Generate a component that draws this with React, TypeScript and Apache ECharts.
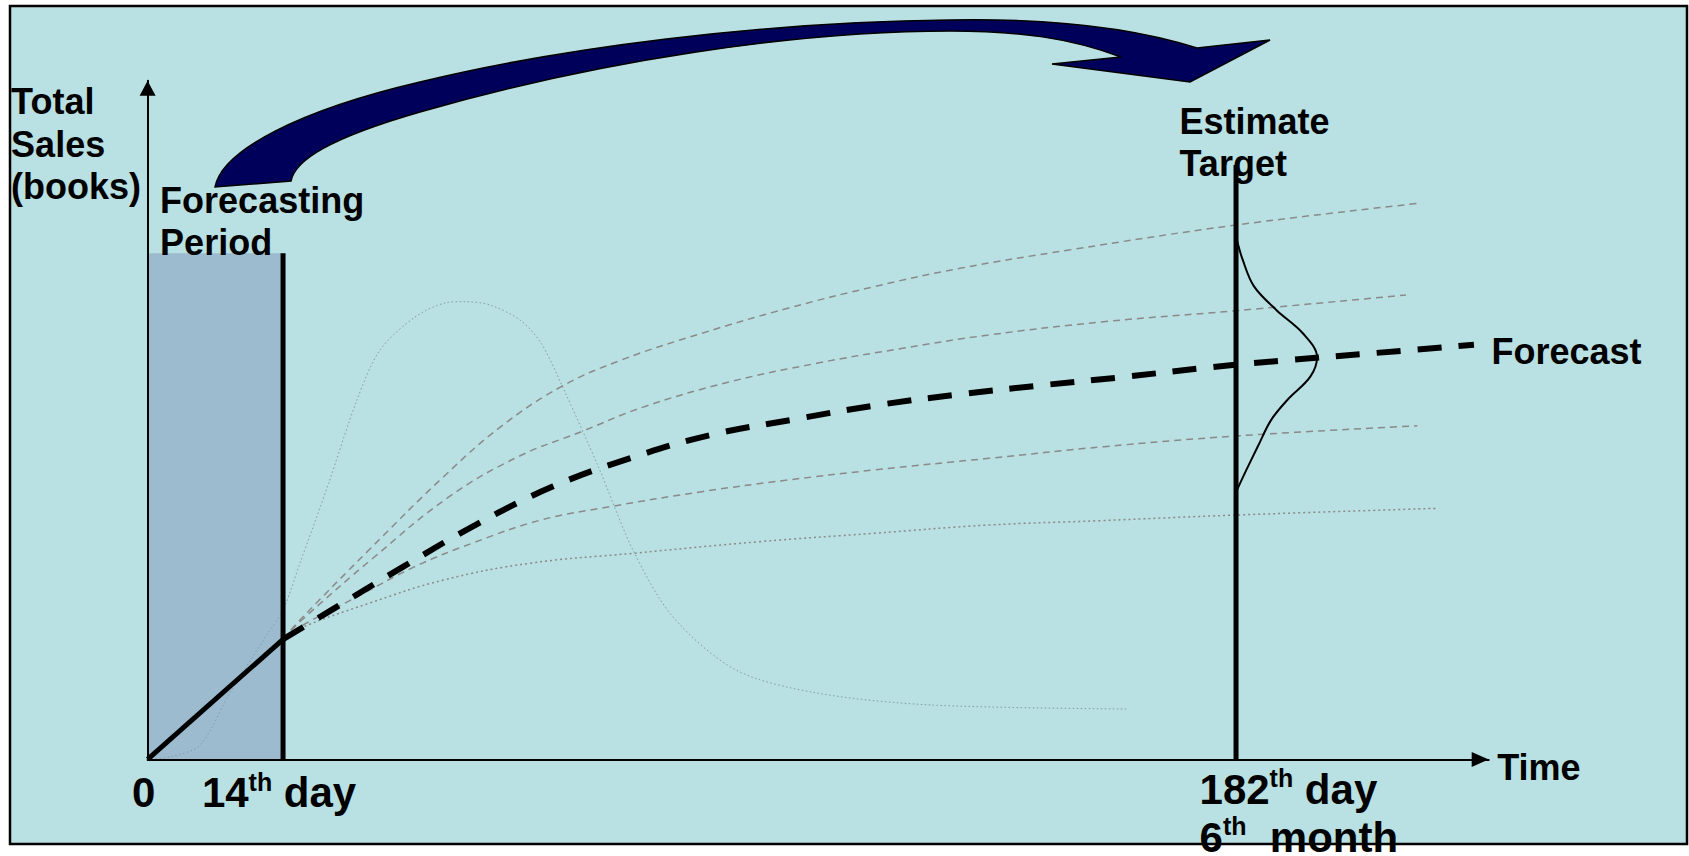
import React, { useEffect, useRef } from 'react';
import * as echarts from 'echarts';

// Schematic axes: time runs 0..100 (0 = launch, 10.1 = 14th day, 81.16 = 182th day),
// total sales runs 0..100 (relative units).
const X_MIN = 0;
const X_MAX = 100;
const Y_MIN = 0;
const Y_MAX = 100;

const forecastEndX = 10.1; // 14th day
const targetX = 81.16; // 182th day
const periodTopY = 74.6;
const targetTopY = 87.6;

const xTickValues = [0, 10.1];
const xTickLabels = ['0', '14th day'];
const targetTickLabel = '182th day\n6th  month';
const yAxisTitle = 'Total\nSales\n(books)';
const xAxisTitle = 'Time';
const periodTitle = 'Forecasting\nPeriod';
const targetTitle = 'Estimate\nTarget';
const forecastTitle = 'Forecast';

const actualSales = [[0, 0], [10.1, 17.7]];

const forecast = [
  [10.1, 17.7], [13.7, 22.0], [19.07, 28.4], [24.4, 34.5], [30.2, 40.2], [36.0, 44.4],
  [41.97, 47.8], [48.2, 50.1], [54.4, 52.2], [60.6, 53.8], [67.0, 55.2], [73.0, 56.4],
  [79.3, 57.8], [85.4, 58.9], [91.6, 59.9], [98.9, 61.1],
];

const scenarioHigh = [
  [10.1, 17.7], [11.36, 20.54], [16.5, 30.85], [22.07, 41.66], [26.34, 49.03], [30.84, 54.92],
  [35.33, 58.86], [41.32, 62.79], [47.74, 66.48], [54.16, 69.66], [60.58, 72.37], [68.72, 75.07],
  [81.16, 78.75], [94.8, 81.95],
];

const scenarioMidHigh = [
  [10.1, 17.7], [11.36, 20.29], [16.93, 29.87], [22.49, 38.71], [27.63, 44.61], [32.34, 48.29],
  [37.04, 51.98], [43.46, 55.66], [49.88, 58.37], [56.3, 60.58], [62.72, 62.54], [71.28, 64.5],
  [81.16, 66.12], [93.83, 68.44],
];

const scenarioMidLow = [
  [10.1, 17.7], [11.36, 19.55], [15.64, 23.98], [19.92, 28.4], [24.2, 31.85], [29.33, 35.28],
  [34.48, 37.24], [41.32, 39.45], [47.74, 41.17], [54.16, 42.65], [62.72, 44.37], [71.28, 46.08],
  [81.16, 47.66], [94.68, 49.17],
];

const scenarioLow = [
  [10.1, 17.7], [11.36, 19.32], [16.5, 23.0], [22.07, 26.44], [28.48, 28.9], [36.19, 30.37],
  [45.6, 32.08], [54.16, 33.32], [62.72, 34.54], [71.02, 35.18], [81.16, 36.01], [96.22, 37.0],
];

const dailySales = [
  [0, 0], [1.67, 0.35], [3.9, 2.1], [6.12, 9.74], [8.97, 18.58], [10.1, 22.0], [11.36, 28.9],
  [13.5, 40.7], [15.61, 52.96], [17.33, 60.33], [19.94, 65.19], [22.18, 67.26], [23.59, 67.45],
  [25.53, 66.96], [27.77, 64.75], [29.33, 61.36], [31.05, 54.44], [33.62, 43.09], [36.19, 30.86],
  [39.18, 20.98], [43.87, 13.17], [49.91, 9.78], [58.41, 8.02], [73.03, 7.43],
];

const targetDistribution = [
  [81.23, 76.5], [81.66, 73.6], [82.5, 69.7], [84.18, 66.2], [86.14, 62.8], [87.2, 59.3],
  [86.7, 56.4], [85.0, 53.0], [83.77, 50.0], [82.78, 46.1], [81.94, 42.7], [81.23, 39.7],
];

const ARROW_PATH =
  'M215 187 C222 150 300 110 420 82 C560 48 760 22 950 20 C1060 18 1140 30 1197 48 ' +
  'L1270 40 L1190 82 L1052 64 L1121 57 ' +
  'C1070 38 1020 31 950 31 C800 31 600 60 420 112 C330 138 295 160 291 181 Z';

echarts.graphic.registerShape('salesArrow', echarts.graphic.extendPath(ARROW_PATH, {}));

const FONT = '"Liberation Sans", Arial, sans-serif';

const toRich = (text: string) =>
  text
    .split('\n')
    .map((line) => {
      const m = line.match(/^(\d+)th(.*)$/);
      return m ? `{n|${m[1]}}{s|th}{n|${m[2]}}` : `{n|${line}}`;
    })
    .join('\n');

const grayDash = { color: '#8a8a8a', width: 1.5, type: [7, 5] as number[] };

export default function App() {
  const ref = useRef<HTMLDivElement>(null);

  useEffect(() => {
    if (!ref.current) return;
    const chart = echarts.init(ref.current, undefined, { renderer: 'svg' });

    const richTick = (lh: number) => ({
      n: { fontSize: 42, lineHeight: lh, fontWeight: 'bold', fontFamily: FONT, color: '#000' },
      s: { fontSize: 25, lineHeight: 32, fontWeight: 'bold', fontFamily: FONT, color: '#000', verticalAlign: 'top' },
    });

    const lineBase = (name: string, data: number[][], lineStyle: any, z = 3, smooth: any = 0.4) => ({
      name,
      type: 'line',
      data,
      smooth,
      showSymbol: false,
      symbol: 'none',
      silent: true,
      z,
      lineStyle: { cap: 'butt', ...lineStyle },
    });

    const textLabel = (text: string, position: number[], extra: any = {}) => ({
      show: true,
      formatter: () => text,
      position,
      color: '#000',
      opacity: 1,
      fontFamily: FONT,
      fontWeight: 'bold',
      fontSize: 36,
      lineHeight: 42.5,
      align: 'left',
      verticalAlign: 'top',
      textBorderWidth: 0,
      textShadowBlur: 0,
      ...extra,
    });

    const option: any = {
      animation: false,
      backgroundColor: '#ffffff',
      grid: {
        left: 147.6,
        top: 80.8,
        right: 200.3,
        bottom: 96.6,
        containLabel: false,
        outerBoundsMode: 'none',
      },
      xAxis: {
        type: 'value',
        min: X_MIN,
        max: X_MAX,
        z: 10,
        axisLine: {
          show: true,
          onZero: false,
          symbol: ['none', 'triangle'],
          symbolSize: [15, 17],
          symbolOffset: [0, -8.5],
          lineStyle: { color: '#000', width: 2 },
        },
        axisTick: { show: false },
        splitLine: { show: false },
        axisLabel: {
          show: true,
          customValues: xTickValues,
          margin: 10,
          padding: [0, 8, 0, 0],
          formatter: (v: number) => {
            const i = xTickValues.findIndex((t) => Math.abs(t - v) < 1e-6);
            return i >= 0 ? toRich(xTickLabels[i]) : '';
          },
          rich: richTick(46),
        },
      },
      yAxis: {
        type: 'value',
        min: Y_MIN,
        max: Y_MAX,
        z: 10,
        axisLine: {
          show: true,
          onZero: false,
          symbol: ['none', 'triangle'],
          symbolSize: [16, 15],
          symbolOffset: [0, -7.5],
          lineStyle: { color: '#000', width: 2 },
        },
        axisTick: { show: false },
        splitLine: { show: false },
        axisLabel: { show: false },
      },
      graphic: {
        elements: [
          {
            type: 'rect',
            z: -10,
            silent: true,
            shape: { x: 10, y: 6, width: 1677, height: 838 },
            style: { fill: '#B9E0E3', stroke: 'none' },
          },
          {
            type: 'salesArrow',
            x: 0,
            y: 0,
            z: 50,
            silent: true,
            style: { fill: '#00005a', stroke: '#000', lineWidth: 1.5 },
          },
          {
            type: 'rect',
            z: 100,
            silent: true,
            shape: { x: 10, y: 6, width: 1677, height: 838 },
            style: { fill: 'none', stroke: '#000', lineWidth: 2.5 },
          },
        ],
      },
      series: [
        {
          name: 'Forecasting period',
          type: 'line',
          data: [],
          z: 1,
          silent: true,
          markArea: {
            silent: true,
            itemStyle: { color: '#9DBBCF', opacity: 1 },
            label: { show: false },
            data: [[{ coord: [X_MIN, Y_MIN] }, { coord: [forecastEndX, periodTopY] }]],
          },
        },
        lineBase('Daily sales', dailySales, { color: '#7f9da5', width: 1, type: [1.5, 2.5] }, 2, 0.3),
        lineBase('Scenario high', scenarioHigh, grayDash),
        lineBase('Scenario mid-high', scenarioMidHigh, grayDash),
        lineBase('Scenario mid-low', scenarioMidLow, grayDash),
        lineBase('Scenario low', scenarioLow, { color: '#8a8a8a', width: 1.5, type: [2, 3] }),
        lineBase('Forecast', forecast, { color: '#000', width: 6, type: [24, 17] }, 4),
        lineBase('Actual sales', actualSales, { color: '#000', width: 5 }, 5, false),
        lineBase('14th day', [[forecastEndX, Y_MIN], [forecastEndX, periodTopY]], { color: '#000', width: 5 }, 5, false),
        lineBase('182th day', [[targetX, Y_MIN], [targetX, targetTopY]], { color: '#000', width: 5 }, 5, false),
        lineBase('Target distribution', targetDistribution, { color: '#000', width: 2 }, 5, 0.35),
        {
          name: 'Annotations',
          type: 'scatter',
          symbol: 'rect',
          symbolSize: 1,
          silent: true,
          clip: false,
          z: 20,
          itemStyle: { color: 'rgba(0,0,0,0)', opacity: 1 },
          data: [
            { value: [X_MIN, Y_MAX], label: textLabel(yAxisTitle, [-136, 0]) },
            { value: [X_MIN, periodTopY], label: textLabel(periodTitle, [13, -73], { lineHeight: 42 }) },
            { value: [targetX, targetTopY], label: textLabel(targetTitle, [-56, -64], { lineHeight: 42.3 }) },
            { value: forecast[forecast.length - 1], label: textLabel(forecastTitle, [18, -14], { lineHeight: 42 }) },
            { value: [X_MAX, Y_MIN], label: textLabel(xAxisTitle, [9, -12], { lineHeight: 42 }) },
            {
              value: [targetX, Y_MIN],
              label: textLabel(toRich(targetTickLabel), [-36, 7], { rich: richTick(48) }),
            },
          ],
        },
      ],
    };

    chart.setOption(option);
    return () => chart.dispose();
  }, []);

  return (
    <div
      ref={ref}
      style={{ position: 'fixed', left: 0, top: 0, width: 1689, height: 856 }}
    />
  );
}
